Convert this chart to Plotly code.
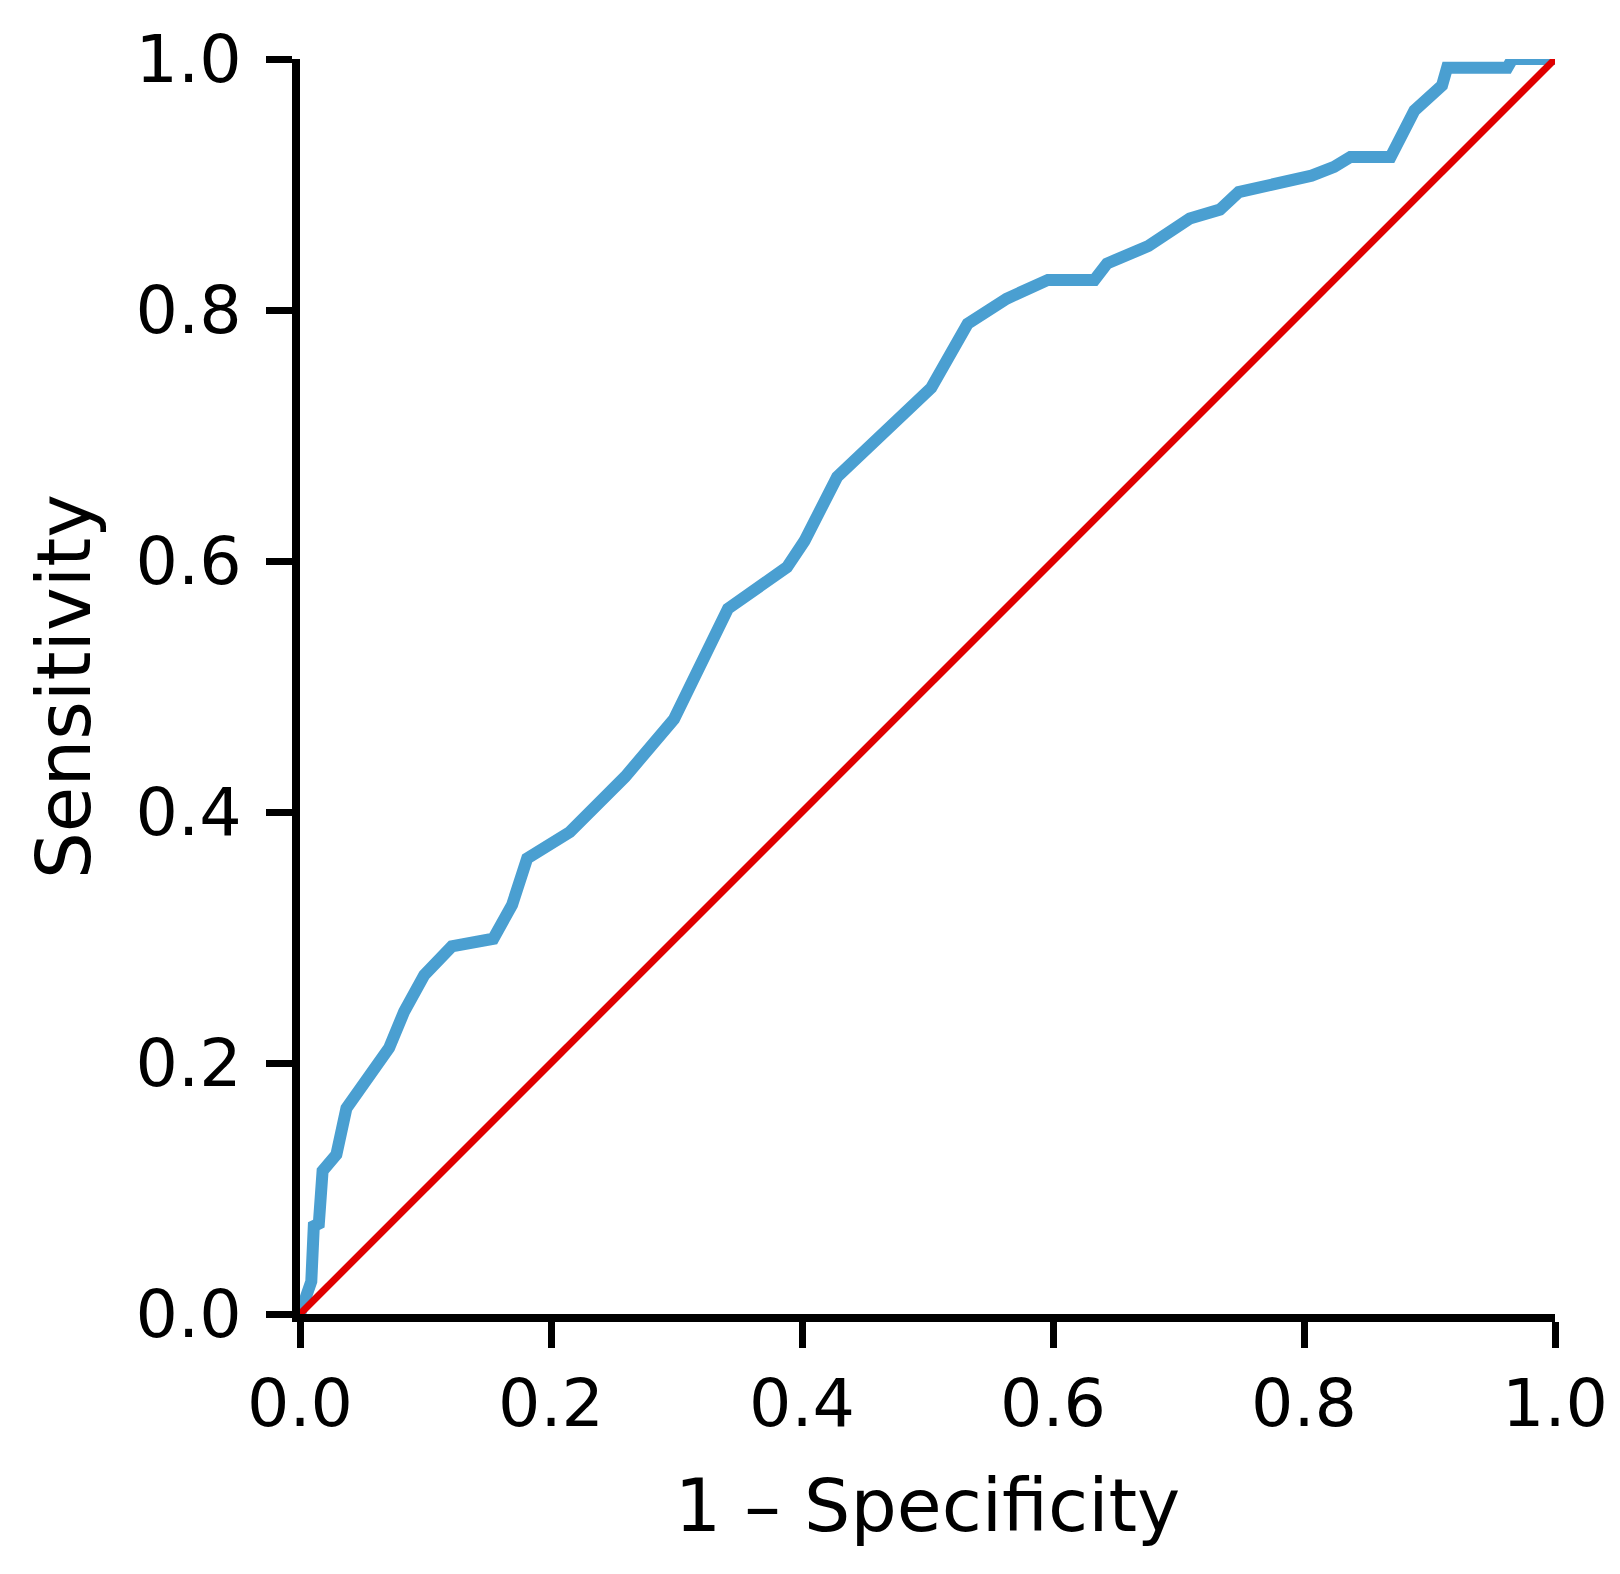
import plotly.graph_objects as go

# ROC curve
fpr = [0.0, 0.009, 0.011, 0.015, 0.018, 0.029, 0.037, 0.071, 0.083, 0.099,
       0.121, 0.154, 0.169, 0.181, 0.215, 0.259, 0.298, 0.341, 0.388, 0.402,
       0.428, 0.503, 0.532, 0.563, 0.596, 0.633, 0.643, 0.676, 0.709, 0.733,
       0.748, 0.780, 0.806, 0.824, 0.837, 0.869, 0.888, 0.910, 0.914, 0.962,
       0.966, 1.0]
tpr = [0.0, 0.026, 0.070, 0.072, 0.114, 0.127, 0.164, 0.212, 0.241, 0.270,
       0.293, 0.299, 0.326, 0.363, 0.384, 0.428, 0.474, 0.562, 0.595, 0.616,
       0.667, 0.738, 0.789, 0.809, 0.824, 0.824, 0.837, 0.851, 0.873, 0.880,
       0.894, 0.901, 0.907, 0.914, 0.922, 0.922, 0.959, 0.979, 0.993, 0.993,
       1.0, 1.0]

# chance line
chance = [0.0, 1.0]

tick_vals = [0.0, 0.2, 0.4, 0.6, 0.8, 1.0]

FONT = 'DejaVu Sans'

fig = go.Figure()
fig.add_trace(go.Scatter(x=fpr, y=tpr, mode='lines',
                         line={'color': '#4a9fd1', 'width': 12}))
fig.add_trace(go.Scatter(x=chance, y=chance, mode='lines',
                         line={'color': '#df0000', 'width': 7}))

axis_style = dict(
    range=[0, 1],
    tickvals=tick_vals,
    tickformat='.1f',
    showgrid=False,
    zeroline=False,
    showline=True,
    linewidth=8,
    linecolor='black',
    ticks='outside',
    ticklen=26,
    tickwidth=7,
    tickcolor='black',
    tickfont={'family': FONT, 'size': 66.7, 'color': 'black'},
)

# page body adds an 8px margin, so the figure is a bit smaller than the window
fig.update_layout(
    width=1612,
    height=1566,
    margin={'l': 292, 'r': 58, 't': 50, 'b': 260},
    plot_bgcolor='white',
    paper_bgcolor='white',
    showlegend=False,
    font={'family': FONT, 'color': 'black'},
    xaxis=dict(axis_style,
               ticklabelstandoff=-2,
               title={'text': '1 – Specificity',
                      'font': {'family': FONT, 'size': 73},
                      'standoff': 42}),
    yaxis=dict(axis_style,
               ticklabelstandoff=11,
               title={'text': 'Sensitivity',
                      'font': {'family': FONT, 'size': 74},
                      'standoff': 24}),
)

fig.write_html('out.html')
